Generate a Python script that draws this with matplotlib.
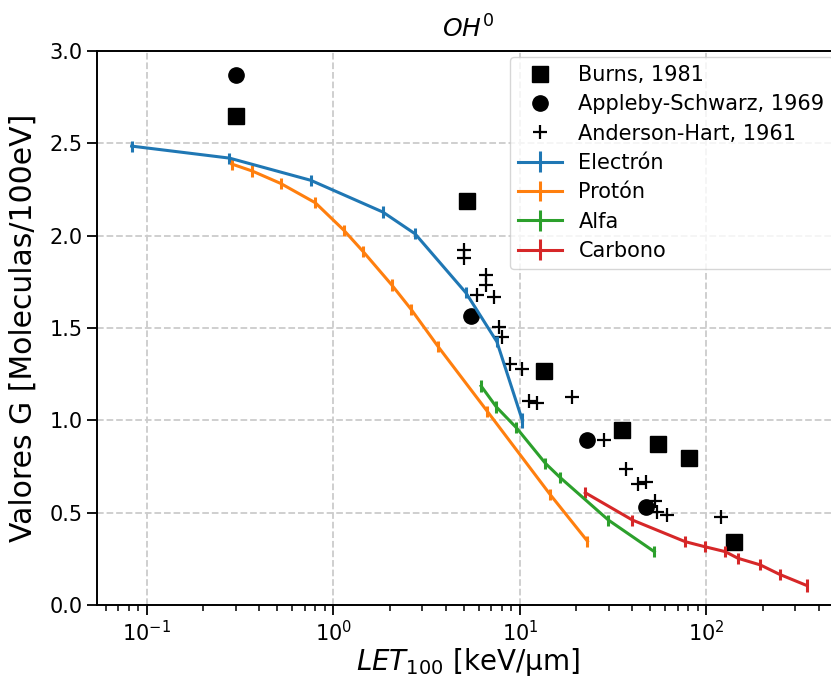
import matplotlib
matplotlib.use("Agg")
import matplotlib.pyplot as plt

# Simulated G-values for OH radicals vs LET, per projectile
electron_let = [0.0828, 0.277, 0.755, 1.84, 2.74, 5.13, 7.52, 10.3]
electron_g = [2.485, 2.42, 2.30, 2.128, 2.01, 1.691, 1.426, 1.0]
electron_err = [0.03, 0.03, 0.03, 0.03, 0.03, 0.03, 0.03, 0.04]

proton_let = [0.285, 0.367, 0.521, 0.80, 1.136, 1.446, 2.055, 2.61, 3.65, 6.67, 14.5, 23.0]
proton_g = [2.388, 2.35, 2.283, 2.178, 2.03, 1.913, 1.733, 1.601, 1.398, 1.05, 0.599, 0.346]
proton_err = [0.03] * 12

alpha_let = [6.19, 7.48, 9.57, 13.7, 16.4, 29.8, 52.5]
alpha_g = [1.186, 1.072, 0.96, 0.767, 0.691, 0.46, 0.289]
alpha_err = [0.03] * 7

carbon_let = [22.4, 40.1, 76.9, 97.7, 126.0, 147.6, 194.5, 246.6, 346.0]
carbon_g = [0.608, 0.46, 0.343, 0.316, 0.289, 0.253, 0.217, 0.166, 0.105]
carbon_err = [0.03, 0.03, 0.03, 0.03, 0.03, 0.03, 0.03, 0.03, 0.035]

# Experimental references
burns_let = [0.299, 5.23, 13.5, 35.2, 55.3, 80.9, 141.0]
burns_g = [2.649, 2.189, 1.268, 0.947, 0.872, 0.794, 0.343]

appleby_let = [0.299, 5.47, 22.9, 47.3]
appleby_g = [2.87, 1.566, 0.893, 0.532]

anderson_let = [5.02, 5.02, 6.56, 6.56, 5.87, 7.27, 7.76, 8.0, 8.86, 10.3,
                11.2, 12.3, 19.1, 28.3, 37.0, 43.2, 47.5, 53.1, 54.2, 61.8, 119.7]
anderson_g = [1.922, 1.877, 1.787, 1.733, 1.678, 1.669, 1.503, 1.449, 1.305, 1.276,
              1.106, 1.092, 1.128, 0.893, 0.735, 0.655, 0.664, 0.565, 0.505, 0.487, 0.478]

fig = plt.figure(figsize=(8.31, 6.77), dpi=100)
ax = fig.add_axes([97 / 831, 72 / 677, 743 / 831, 554 / 677])

ax.plot(burns_let, burns_g, ls="none", marker="s", ms=11, color="black", label="Burns, 1981")
ax.plot(appleby_let, appleby_g, ls="none", marker="o", ms=11, color="black",
        label="Appleby-Schwarz, 1969")
ax.plot(anderson_let, anderson_g, ls="none", marker="+", ms=10, mew=1.6, color="black",
        label="Anderson-Hart, 1961")

series = [
    (electron_let, electron_g, electron_err, "#1f77b4", "Electrón"),
    (proton_let, proton_g, proton_err, "#ff7f0e", "Protón"),
    (alpha_let, alpha_g, alpha_err, "#2ca02c", "Alfa"),
    (carbon_let, carbon_g, carbon_err, "#d62728", "Carbono"),
]
for x, y, e, c, lab in series:
    ax.errorbar(x, y, yerr=e, color=c, lw=2.2, elinewidth=2.2, capsize=0, label=lab)

ax.set_xscale("log")
ax.set_xlim(0.054, 520)
ax.set_ylim(0.0, 3.0)
ax.set_yticks([0.0, 0.5, 1.0, 1.5, 2.0, 2.5, 3.0])
ax.grid(True, which="major", linestyle="--", color="#cccccc", lw=1.3)
ax.set_axisbelow(True)

ax.tick_params(axis="both", which="major", labelsize=15, length=7, width=1.3)
ax.tick_params(axis="x", which="minor", length=4, width=1.1)
for s in ax.spines.values():
    s.set_linewidth(1.4)

ax.set_title("$OH^0$", fontsize=18, pad=10)
ax.set_xlabel("$LET_{100}$ [keV/μm]", fontsize=20, labelpad=1)
ax.set_ylabel("Valores G [Moleculas/100eV]", fontsize=21.5, labelpad=8)

ax.legend(loc="upper right", fontsize=15, bbox_to_anchor=(0.9905, 0.99),
          borderaxespad=0.0, handlelength=2.1, labelspacing=0.45)

fig.savefig("out.png", dpi=100)
